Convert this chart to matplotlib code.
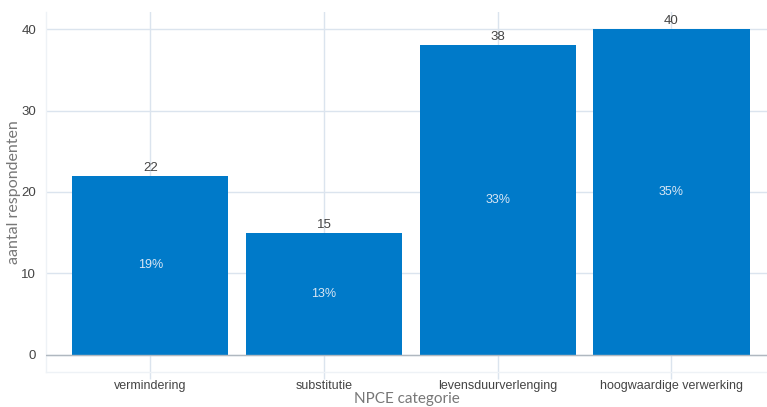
import matplotlib
matplotlib.use("Agg")
import matplotlib.pyplot as plt

categories = ["vermindering", "substitutie", "levensduurverlenging", "hoogwaardige verwerking"]
counts = [22, 15, 38, 40]
percent_labels = ["19%", "13%", "33%", "35%"]
yticks = [0, 10, 20, 30, 40]

W, H = 767, 407
fig = plt.figure(figsize=(W / 100, H / 100), dpi=100)
ax = fig.add_axes([46 / W, 1 - 372 / H, (767 - 46) / W, (372 - 12) / H])

bar_color = "#007ac9"
grid_color = "#dbe4ee"
x = list(range(len(categories)))
bars = ax.bar(x, counts, width=0.9, color=bar_color, zorder=2)

ax.set_xlim(-0.6, 3.55)
ax.set_ylim(-2.1, 42.1)
ax.set_yticks(yticks)
ax.set_xticks(x)
ax.set_xticklabels(categories, fontsize=9, color="#444444", family="Liberation Sans")
ax.set_yticklabels([str(v) for v in yticks], fontsize=9.5, color="#444444", family="Liberation Sans")
ax.tick_params(axis="y", length=0, pad=7)
ax.tick_params(axis="x", length=5, width=1.0, color=grid_color, pad=1)

ax.grid(True, color=grid_color, linewidth=1.0, zorder=0)
ax.axhline(0, color="#b0b8c0", linewidth=1.0, zorder=3)
for s in ["top", "right"]:
    ax.spines[s].set_visible(False)
for s in ["left", "bottom"]:
    ax.spines[s].set_color("#eef2f6")
    ax.spines[s].set_linewidth(1.0)

for xi, c, p in zip(x, counts, percent_labels):
    ax.text(xi, c + 0.25, str(c), ha="center", va="bottom", fontsize=9.5,
            color="#444444", family="Liberation Sans", zorder=4)
    ax.text(xi, c / 2, p, ha="center", va="center", fontsize=9,
            color="#d8e6f4", family="Liberation Sans", zorder=4)

ax.set_xlabel("NPCE categorie", fontsize=11, color="#777777", family="Lato", labelpad=0)
ax.set_ylabel("aantal respondenten", fontsize=11.5, color="#777777", family="Lato", labelpad=0)

fig.savefig("out.png", dpi=100, facecolor="white")
